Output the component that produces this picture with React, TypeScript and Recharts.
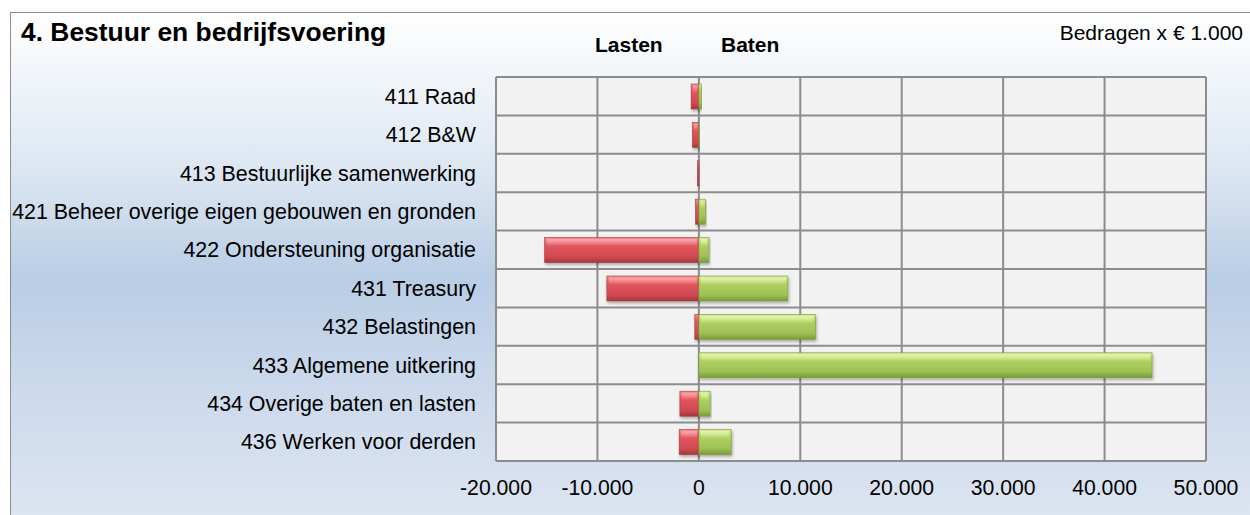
import React from "react";
import {
  BarChart,
  Bar,
  XAxis,
  YAxis,
  CartesianGrid,
} from "recharts";

const categories = [
  "411 Raad",
  "412 B&W",
  "413 Bestuurlijke samenwerking",
  "421 Beheer overige eigen gebouwen en gronden",
  "422 Ondersteuning organisatie",
  "431 Treasury",
  "432 Belastingen",
  "433 Algemene uitkering",
  "434 Overige baten en lasten",
  "436 Werken voor derden",
];

// lasten negative, baten positive (x € 1.000)
const lasten = [-760, -630, -150, -330, -15200, -9070, -400, 0, -1870, -1940];
const baten = [250, 80, 40, 650, 1000, 8780, 11500, 44680, 1110, 3190];

const xTicks = [-20000, -10000, 0, 10000, 20000, 30000, 40000, 50000];

const data = categories.map((name, i) => ({
  name,
  lasten: lasten[i],
  baten: baten[i],
}));

const FONT = "'Liberation Sans', Arial, sans-serif";

const fmt = (v: number) => {
  const s = Math.abs(v)
    .toString()
    .replace(/\B(?=(\d{3})+(?!\d))/g, ".");
  return v < 0 ? "-" + s : s;
};

const makeShape = (kind: "red" | "green") => (props: any) => {
  const { x, y, width, height } = props;
  if (!width || Math.abs(width) < 0.5) return <g />;
  const x0 = Math.min(x, x + width);
  const w = Math.abs(width);
  const stroke = kind === "red" ? "#a8363d" : "#7a9a36";
  return (
    <g filter="url(#barShadow)">
      <rect x={x0} y={y} width={w} height={height} fill={`url(#${kind}Grad)`} stroke={stroke} strokeWidth={0.6} />
      <rect x={x0 + 2} y={y + 1.5} width={Math.max(w - 4, 0)} height={height * 0.3} fill={`url(#${kind}Top)`} />
    </g>
  );
};

export default function App() {
  return (
    <div style={{ position: "absolute", left: 0, top: 0, width: 1250, height: 515, background: "#fff", overflow: "hidden", fontFamily: FONT }}>
      <div
        style={{
          position: "absolute",
          left: 10,
          top: 12,
          width: 1250,
          height: 510,
          borderLeft: "1.5px solid #8c8c8c",
          borderTop: "1.5px solid #8c8c8c",
          background: "linear-gradient(to bottom, #ffffff 0%, #dde7f2 30%, #b9cde5 52%, #cddaec 75%, #dde5f1 100%)",
        }}
      />
      <div style={{ position: "absolute", left: 21, top: 17, fontSize: 26.4, fontWeight: "bold", color: "#000" }}>
        4. Bestuur en bedrijfsvoering
      </div>
      <div style={{ position: "absolute", right: 7, top: 21, fontSize: 21, color: "#000" }}>
        Bedragen x € 1.000
      </div>
      <div style={{ position: "absolute", left: 595, top: 33, fontSize: 21, fontWeight: "bold" }}>Lasten</div>
      <div style={{ position: "absolute", left: 721, top: 33, fontSize: 21, fontWeight: "bold" }}>Baten</div>
      <div style={{ position: "absolute", left: 0, top: 0 }}>
        <BarChart
          width={1250}
          height={515}
          data={data}
          layout="vertical"
          stackOffset="sign"
          margin={{ top: 77, right: 44, bottom: 24, left: 0 }}
        >
          <defs>
            <linearGradient id="redGrad" x1="0" y1="0" x2="0" y2="1">
              <stop offset="0%" stopColor="#f28b91" />
              <stop offset="30%" stopColor="#e2565e" />
              <stop offset="75%" stopColor="#d24a52" />
              <stop offset="100%" stopColor="#a2373e" />
            </linearGradient>
            <linearGradient id="redTop" x1="0" y1="0" x2="0" y2="1">
              <stop offset="0%" stopColor="#ffb5b9" stopOpacity={0.75} />
              <stop offset="100%" stopColor="#ffb5b9" stopOpacity={0} />
            </linearGradient>
            <linearGradient id="greenGrad" x1="0" y1="0" x2="0" y2="1">
              <stop offset="0%" stopColor="#d6ec90" />
              <stop offset="30%" stopColor="#b0d163" />
              <stop offset="75%" stopColor="#9ec055" />
              <stop offset="100%" stopColor="#799a38" />
            </linearGradient>
            <linearGradient id="greenTop" x1="0" y1="0" x2="0" y2="1">
              <stop offset="0%" stopColor="#eef9c0" stopOpacity={0.75} />
              <stop offset="100%" stopColor="#eef9c0" stopOpacity={0} />
            </linearGradient>
            <filter id="barShadow" x="-10%" y="-20%" width="120%" height="160%">
              <feDropShadow dx="1" dy="2" stdDeviation="1.5" floodColor="#000" floodOpacity="0.3" />
            </filter>
          </defs>
          <CartesianGrid
            fill="#f2f2f2"
            stroke="#8c8c8c"
            strokeWidth={2}
            horizontalCoordinatesGenerator={({ offset }: any) =>
              Array.from({ length: categories.length + 1 }, (_, i) => offset.top + (i * offset.height) / categories.length)
            }
          />
          <XAxis
            type="number"
            domain={[-20000, 50000]}
            ticks={xTicks}
            tickFormatter={fmt}
            axisLine={false}
            tickLine={false}
            tickSize={6}
            tickMargin={13}
            height={30}
            tick={{ fontSize: 21.2, fill: "#000", fontFamily: FONT }}
          />
          <YAxis
            type="category"
            dataKey="name"
            width={496}
            axisLine={false}
            tickLine={false}
            tickSize={6}
            tickMargin={14}
            interval={0}
            tick={{ fontSize: 21.4, fill: "#000", fontFamily: FONT }}
          />
          <Bar dataKey="lasten" stackId="a" barSize={25} shape={makeShape("red")} isAnimationActive={false} />
          <Bar dataKey="baten" stackId="a" barSize={25} shape={makeShape("green")} isAnimationActive={false} />
        </BarChart>
      </div>
    </div>
  );
}
